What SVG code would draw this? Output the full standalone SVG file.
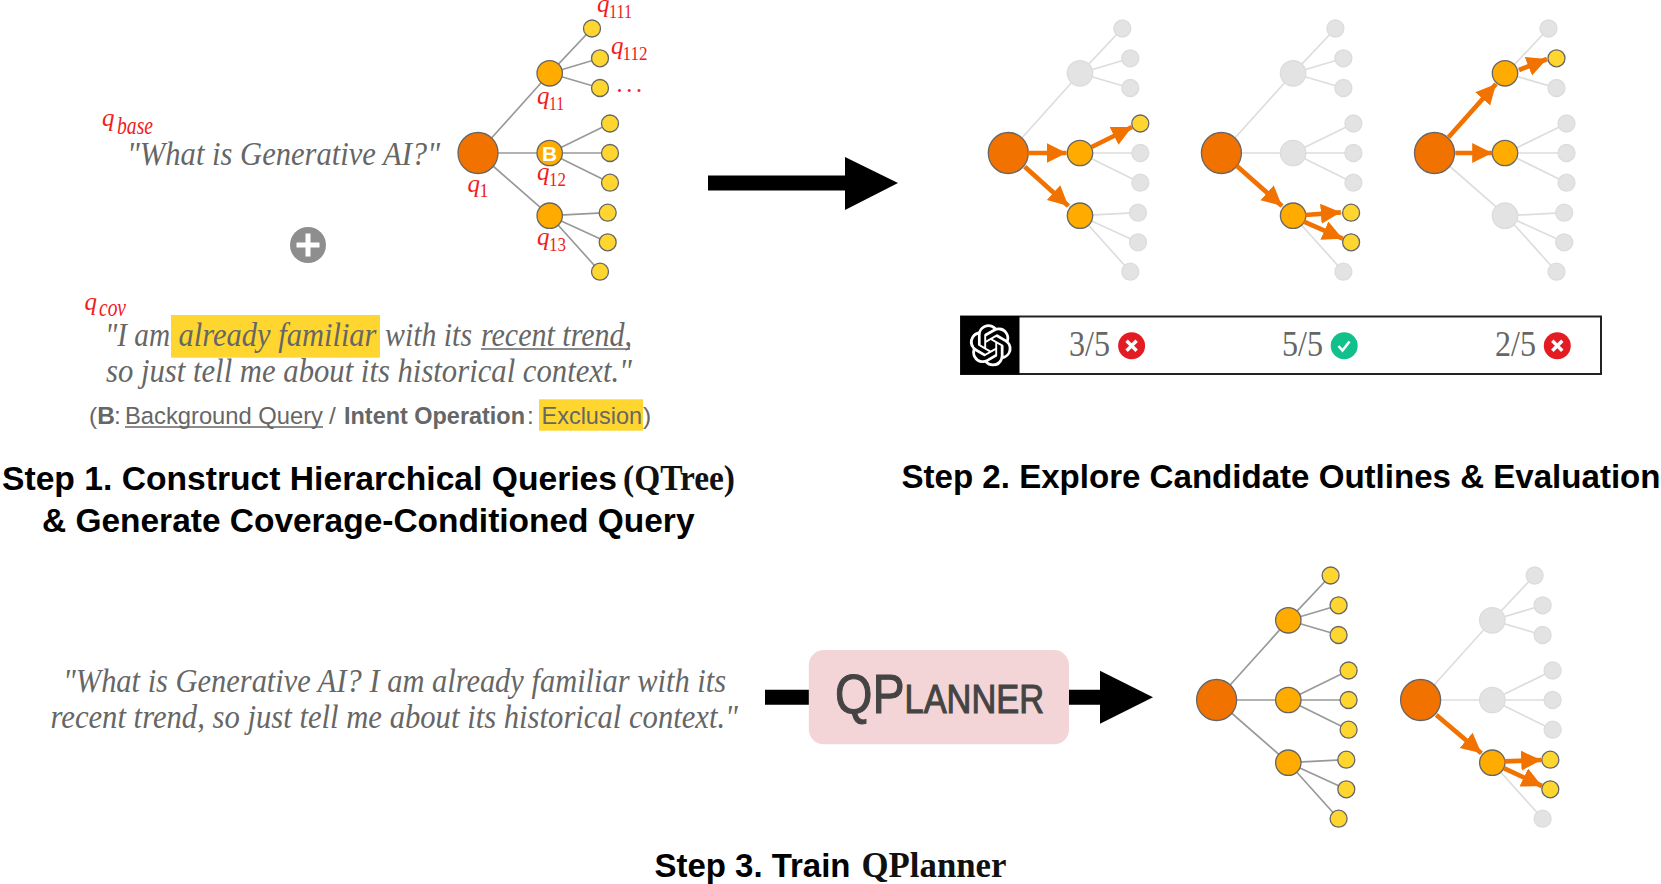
<svg xmlns="http://www.w3.org/2000/svg" xmlns:xlink="http://www.w3.org/1999/xlink" width="1661" height="884" viewBox="0 0 1661 884">
<style>
text{font-family:"Liberation Sans",Arial,sans-serif}
.qt{font-family:"Liberation Serif","Times New Roman",serif;font-style:italic;font-size:34px;fill:#666}
.q{font-family:"Liberation Serif","Times New Roman",serif;font-style:italic;fill:#f0201c;font-size:25px}
.s{font-family:"Liberation Serif","Times New Roman",serif;fill:#f0201c;font-size:18px}
.si{font-family:"Liberation Serif","Times New Roman",serif;font-style:italic;fill:#f0201c;font-size:25px}
.h{font-weight:700;font-size:33.5px;fill:#000}
.hs{font-family:"Liberation Serif","Times New Roman",serif;font-weight:700;font-size:35px;fill:#111}
.leg{font-size:24.5px;fill:#666}
.sc{font-family:"Liberation Serif","Times New Roman",serif;font-size:35px;fill:#666}
.e{stroke:#999;stroke-width:1.7;fill:none}
.f{stroke:#ddd;stroke-width:1.7;fill:none}
.r{fill:#f27200;stroke:#666;stroke-width:1.3}
.m{fill:#ffab00;stroke:#666;stroke-width:1.3}
.l{fill:#ffd630;stroke:#666;stroke-width:1.3}
.x{fill:#e3e3e3;stroke:#dcdcdc;stroke-width:1.3}
.a{stroke:#f27200;stroke-width:4.7;fill:none;marker-end:url(#ah)}
.hl{fill:#ffd630}
.ul{stroke:#666;stroke-width:1.5}
</style>
<defs>
<marker id="ah" markerUnits="userSpaceOnUse" markerWidth="21" markerHeight="21" refX="20" refY="10" orient="auto"><path d="M0 0L20 10L0 20z" fill="#f27200"/></marker>
<path id="branches" d="M478 153L549.7 73.3M478 153H549.7M478 153L549.7 215.7M549.7 73.3L592 28.5M549.7 73.3L600 58.3M549.7 73.3L600 88M549.7 153L610 123.5M549.7 153H610M549.7 153L610 182.7M549.7 215.7L607.7 212.7M549.7 215.7L607.7 242.3M549.7 215.7L600 271.7"/>
</defs>
<rect width="1661" height="884" fill="#fff"/>
<g id="connectors">
<use xlink:href="#branches" href="#branches" class="e"/>
<use xlink:href="#branches" href="#branches" class="f" transform="translate(530.3 0)"/>
<use xlink:href="#branches" href="#branches" class="f" transform="translate(743.4 0)"/>
<use xlink:href="#branches" href="#branches" class="f" transform="translate(956.5 0)"/>
<use xlink:href="#branches" href="#branches" class="e" transform="translate(738.6 547)"/>
<use xlink:href="#branches" href="#branches" class="f" transform="translate(942.6 547)"/>
<path d="M708 183H845" stroke="#000" stroke-width="15" fill="none"/>
<path d="M845 157L898 183L845 210z" fill="#000"/>
<path d="M765 697.3H810M1068 697.3H1101" stroke="#000" stroke-width="15" fill="none"/>
<path d="M1100 670.7L1153 697.3L1100 723.7z" fill="#000"/>
</g>
<g id="tree1">
<g id="t1-q1"><ellipse class="r" cx="478" cy="153" rx="20" ry="20.5"/></g>
<g id="t1-q11"><circle class="m" cx="549.7" cy="73.3" r="12.7"/></g>
<g id="t1-q12"><circle class="m" cx="549.7" cy="153" r="12.7"/><text x="549.7" y="160.5" font-size="21" font-weight="700" fill="#fff" text-anchor="middle">B</text></g>
<g id="t1-q13"><circle class="m" cx="549.7" cy="215.7" r="12.7"/></g>
<g id="t1-q111"><circle class="l" cx="592" cy="28.5" r="8.5"/></g>
<g id="t1-q112"><circle class="l" cx="600" cy="58.3" r="8.5"/></g>
<g id="t1-q113"><circle class="l" cx="600" cy="88" r="8.5"/></g>
<g id="t1-q121"><circle class="l" cx="610" cy="123.5" r="8.5"/></g>
<g id="t1-q122"><circle class="l" cx="610" cy="153" r="8.5"/></g>
<g id="t1-q123"><circle class="l" cx="610" cy="182.7" r="8.5"/></g>
<g id="t1-q131"><circle class="l" cx="607.7" cy="212.7" r="8.5"/></g>
<g id="t1-q132"><circle class="l" cx="607.7" cy="242.3" r="8.5"/></g>
<g id="t1-q133"><circle class="l" cx="600" cy="271.7" r="8.5"/></g>
</g>
<g id="tree2" transform="translate(530.3 0)">
<g id="t2-q1"><ellipse class="r" cx="478" cy="153" rx="20" ry="20.5"/></g>
<g id="t2-q11"><circle class="x" cx="549.7" cy="73.3" r="12.7"/></g>
<g id="t2-q12"><circle class="m" cx="549.7" cy="153" r="12.7"/></g>
<g id="t2-q13"><circle class="m" cx="549.7" cy="215.7" r="12.7"/></g>
<g id="t2-q111"><circle class="x" cx="592" cy="28.5" r="8.5"/></g>
<g id="t2-q112"><circle class="x" cx="600" cy="58.3" r="8.5"/></g>
<g id="t2-q113"><circle class="x" cx="600" cy="88" r="8.5"/></g>
<g id="t2-q121"><circle class="l" cx="610" cy="123.5" r="8.5"/></g>
<g id="t2-q122"><circle class="x" cx="610" cy="153" r="8.5"/></g>
<g id="t2-q123"><circle class="x" cx="610" cy="182.7" r="8.5"/></g>
<g id="t2-q131"><circle class="x" cx="607.7" cy="212.7" r="8.5"/></g>
<g id="t2-q132"><circle class="x" cx="607.7" cy="242.3" r="8.5"/></g>
<g id="t2-q133"><circle class="x" cx="600" cy="271.7" r="8.5"/></g>
</g>
<g id="tree3" transform="translate(743.4 0)">
<g id="t3-q1"><ellipse class="r" cx="478" cy="153" rx="20" ry="20.5"/></g>
<g id="t3-q11"><circle class="x" cx="549.7" cy="73.3" r="12.7"/></g>
<g id="t3-q12"><circle class="x" cx="549.7" cy="153" r="12.7"/></g>
<g id="t3-q13"><circle class="m" cx="549.7" cy="215.7" r="12.7"/></g>
<g id="t3-q111"><circle class="x" cx="592" cy="28.5" r="8.5"/></g>
<g id="t3-q112"><circle class="x" cx="600" cy="58.3" r="8.5"/></g>
<g id="t3-q113"><circle class="x" cx="600" cy="88" r="8.5"/></g>
<g id="t3-q121"><circle class="x" cx="610" cy="123.5" r="8.5"/></g>
<g id="t3-q122"><circle class="x" cx="610" cy="153" r="8.5"/></g>
<g id="t3-q123"><circle class="x" cx="610" cy="182.7" r="8.5"/></g>
<g id="t3-q131"><circle class="l" cx="607.7" cy="212.7" r="8.5"/></g>
<g id="t3-q132"><circle class="l" cx="607.7" cy="242.3" r="8.5"/></g>
<g id="t3-q133"><circle class="x" cx="600" cy="271.7" r="8.5"/></g>
</g>
<g id="tree4" transform="translate(956.5 0)">
<g id="t4-q1"><ellipse class="r" cx="478" cy="153" rx="20" ry="20.5"/></g>
<g id="t4-q11"><circle class="m" cx="548.5" cy="73.3" r="12.7"/></g>
<g id="t4-q12"><circle class="m" cx="548.5" cy="153" r="12.7"/></g>
<g id="t4-q13"><circle class="x" cx="548.5" cy="215.7" r="12.7"/></g>
<g id="t4-q111"><circle class="x" cx="592" cy="28.5" r="8.5"/></g>
<g id="t4-q112"><circle class="l" cx="600" cy="58.3" r="8.5"/></g>
<g id="t4-q113"><circle class="x" cx="600" cy="88" r="8.5"/></g>
<g id="t4-q121"><circle class="x" cx="610" cy="123.5" r="8.5"/></g>
<g id="t4-q122"><circle class="x" cx="610" cy="153" r="8.5"/></g>
<g id="t4-q123"><circle class="x" cx="610" cy="182.7" r="8.5"/></g>
<g id="t4-q131"><circle class="x" cx="607.7" cy="212.7" r="8.5"/></g>
<g id="t4-q132"><circle class="x" cx="607.7" cy="242.3" r="8.5"/></g>
<g id="t4-q133"><circle class="x" cx="600" cy="271.7" r="8.5"/></g>
</g>
<g id="tree5" transform="translate(738.6 547)">
<g id="t5-q1"><ellipse class="r" cx="478" cy="153" rx="20" ry="20.5"/></g>
<g id="t5-q11"><circle class="m" cx="549.7" cy="73.3" r="12.7"/></g>
<g id="t5-q12"><circle class="m" cx="549.7" cy="153" r="12.7"/></g>
<g id="t5-q13"><circle class="m" cx="549.7" cy="215.7" r="12.7"/></g>
<g id="t5-q111"><circle class="l" cx="592" cy="28.5" r="8.5"/></g>
<g id="t5-q112"><circle class="l" cx="600" cy="58.3" r="8.5"/></g>
<g id="t5-q113"><circle class="l" cx="600" cy="88" r="8.5"/></g>
<g id="t5-q121"><circle class="l" cx="610" cy="123.5" r="8.5"/></g>
<g id="t5-q122"><circle class="l" cx="610" cy="153" r="8.5"/></g>
<g id="t5-q123"><circle class="l" cx="610" cy="182.7" r="8.5"/></g>
<g id="t5-q131"><circle class="l" cx="607.7" cy="212.7" r="8.5"/></g>
<g id="t5-q132"><circle class="l" cx="607.7" cy="242.3" r="8.5"/></g>
<g id="t5-q133"><circle class="l" cx="600" cy="271.7" r="8.5"/></g>
</g>
<g id="tree6" transform="translate(942.6 547)">
<g id="t6-q1"><ellipse class="r" cx="478" cy="153" rx="20" ry="20.5"/></g>
<g id="t6-q11"><circle class="x" cx="549.7" cy="73.3" r="12.7"/></g>
<g id="t6-q12"><circle class="x" cx="549.7" cy="153" r="12.7"/></g>
<g id="t6-q13"><circle class="m" cx="549.7" cy="215.7" r="12.7"/></g>
<g id="t6-q111"><circle class="x" cx="592" cy="28.5" r="8.5"/></g>
<g id="t6-q112"><circle class="x" cx="600" cy="58.3" r="8.5"/></g>
<g id="t6-q113"><circle class="x" cx="600" cy="88" r="8.5"/></g>
<g id="t6-q121"><circle class="x" cx="610" cy="123.5" r="8.5"/></g>
<g id="t6-q122"><circle class="x" cx="610" cy="153" r="8.5"/></g>
<g id="t6-q123"><circle class="x" cx="610" cy="182.7" r="8.5"/></g>
<g id="t6-q131"><circle class="l" cx="607.7" cy="212.7" r="8.5"/></g>
<g id="t6-q132"><circle class="l" cx="607.7" cy="242.3" r="8.5"/></g>
<g id="t6-q133"><circle class="x" cx="600" cy="271.7" r="8.5"/></g>
</g>
<g id="orange-arrows">
<line class="a" x1="1028" y1="153" x2="1066.5" y2="153"/>
<line class="a" x1="1091.7" y1="147" x2="1132" y2="127"/>
<line class="a" x1="1024.8" y1="166.7" x2="1068.4" y2="206"/>
<line class="a" x1="1236.9" y1="166" x2="1282" y2="206"/>
<line class="a" x1="1305.3" y1="215" x2="1340.8" y2="212.3"/>
<line class="a" x1="1303.9" y1="221.7" x2="1342.7" y2="238.7"/>
<line class="a" x1="1448.5" y1="137.3" x2="1496" y2="84"/>
<line class="a" x1="1519" y1="70" x2="1547" y2="59"/>
<line class="a" x1="1455.3" y1="153" x2="1492.2" y2="153"/>
<line class="a" x1="1436.3" y1="715" x2="1481.4" y2="753.3"/>
<line class="a" x1="1504.3" y1="761.3" x2="1541.2" y2="760"/>
<line class="a" x1="1504.3" y1="768.3" x2="1541.9" y2="786"/>
</g>
<g id="tree-labels">
<text class="q" x="597" y="12">q</text><text class="s" x="609" y="17.5" textLength="23" lengthAdjust="spacingAndGlyphs">111</text>
<text class="q" x="611" y="54">q</text><text class="s" x="622.5" y="59.5" textLength="25" lengthAdjust="spacingAndGlyphs">112</text>
<text class="q" x="617" y="92" font-size="22" letter-spacing="3.5">...</text>
<text class="q" x="537" y="104">q</text><text class="s" x="549" y="109.5" textLength="15" lengthAdjust="spacingAndGlyphs">11</text>
<text class="q" x="537" y="180">q</text><text class="s" x="549" y="186" textLength="17" lengthAdjust="spacingAndGlyphs">12</text>
<text class="q" x="537" y="245">q</text><text class="s" x="549" y="251" textLength="17" lengthAdjust="spacingAndGlyphs">13</text>
<text class="q" x="467.5" y="191.5">q</text><text class="s" x="479.5" y="197">1</text>
<text class="q" x="102" y="126" font-size="33">q</text><text class="si" x="117" y="134" textLength="36" lengthAdjust="spacingAndGlyphs">base</text>
<text class="q" x="84.5" y="310" font-size="33">q</text><text class="si" x="99" y="316" textLength="27" lengthAdjust="spacingAndGlyphs">cov</text>
</g>
<g id="query-text">
<text class="qt" x="127" y="164.5" textLength="313" lengthAdjust="spacingAndGlyphs">"What is Generative AI?"</text>
<g id="plus"><ellipse cx="308" cy="245" rx="18" ry="18" fill="#8e8e8e"/><path d="M296.5 245H319.5M308 233.5V256.5" stroke="#fff" stroke-width="5" fill="none"/></g>
<rect class="hl" x="171" y="315" width="209" height="42.7"/>
<text class="qt" x="105" y="346" textLength="65" lengthAdjust="spacingAndGlyphs">"I am</text>
<text class="qt" x="178.5" y="346" textLength="198" lengthAdjust="spacingAndGlyphs">already familiar</text>
<text class="qt" x="385" y="346" textLength="87" lengthAdjust="spacingAndGlyphs">with its</text>
<text class="qt" x="481" y="346" textLength="151" lengthAdjust="spacingAndGlyphs">recent trend,</text>
<line class="ul" x1="481" y1="349" x2="630" y2="349"/>
<text class="qt" x="106" y="382" textLength="526" lengthAdjust="spacingAndGlyphs">so just tell me about its historical context."</text>
<rect class="hl" x="539" y="399.3" width="104" height="31.4"/>
<text class="leg" x="89" y="424">(<tspan font-weight="700">B</tspan></text>
<text class="leg" x="114" y="424">:</text>
<text class="leg" x="125" y="424" textLength="198" lengthAdjust="spacingAndGlyphs">Background Query</text>
<line class="ul" x1="125" y1="427" x2="323" y2="427"/>
<text class="leg" x="329" y="424">/</text>
<text class="leg" x="344" y="424" font-weight="700" textLength="181" lengthAdjust="spacingAndGlyphs">Intent Operation</text>
<text class="leg" x="527" y="424">:</text>
<text class="leg" x="541.5" y="424" textLength="100.5" lengthAdjust="spacingAndGlyphs">Exclusion</text>
<text class="leg" x="643" y="424">)</text>
</g>
<g id="score-table">
<rect x="961" y="316.5" width="640" height="57.5" fill="#fff" stroke="#222" stroke-width="2"/>
<rect x="960.5" y="316" width="59" height="58.5" fill="#000"/>
<path fill="#fff" transform="translate(969.7 324.3) scale(1.75)" d="M22.2819 9.8211a5.9847 5.9847 0 0 0-.5157-4.9108 6.0462 6.0462 0 0 0-6.5098-2.9A6.0651 6.0651 0 0 0 4.9807 4.1818a5.9847 5.9847 0 0 0-3.9977 2.9 6.0462 6.0462 0 0 0 .7427 7.0966 5.98 5.98 0 0 0 .511 4.9107 6.051 6.051 0 0 0 6.5146 2.9001A5.9847 5.9847 0 0 0 13.2599 24a6.0557 6.0557 0 0 0 5.7718-4.2058 5.9894 5.9894 0 0 0 3.9977-2.9001 6.0557 6.0557 0 0 0-.7475-7.0729zm-9.022 12.6081a4.4755 4.4755 0 0 1-2.8764-1.0408l.1419-.0804 4.7783-2.7582a.7948.7948 0 0 0 .3927-.6813v-6.7369l2.02 1.1686a.071.071 0 0 1 .038.052v5.5826a4.504 4.504 0 0 1-4.4945 4.4944zm-9.6607-4.1254a4.4708 4.4708 0 0 1-.5346-3.0137l.142.0852 4.783 2.7582a.7712.7712 0 0 0 .7806 0l5.8428-3.3685v2.3324a.0804.0804 0 0 1-.0332.0615L9.74 19.9502a4.4992 4.4992 0 0 1-6.1408-1.6464zM2.3408 7.8956a4.485 4.485 0 0 1 2.3655-1.9728V11.6a.7664.7664 0 0 0 .3879.6765l5.8144 3.3543-2.0201 1.1685a.0757.0757 0 0 1-.071 0l-4.8303-2.7865A4.504 4.504 0 0 1 2.3408 7.872zm16.5963 3.8558L13.1038 8.364 15.1192 7.2a.0757.0757 0 0 1 .071 0l4.8303 2.7913a4.4944 4.4944 0 0 1-.6765 8.1042v-5.6772a.79.79 0 0 0-.407-.667zm2.0107-3.0231l-.142-.0852-4.7735-2.7818a.7759.7759 0 0 0-.7854 0L9.409 9.2297V6.8974a.0662.0662 0 0 1 .0284-.0615l4.8303-2.7866a4.4992 4.4992 0 0 1 6.6802 4.66zM8.3065 12.863l-2.02-1.1638a.0804.0804 0 0 1-.038-.0567V6.0742a4.4992 4.4992 0 0 1 7.3757-3.4537l-.142.0805L8.704 5.459a.7948.7948 0 0 0-.3927.6813zm1.0976-2.3654l2.602-1.4998 2.6069 1.4998v2.9994l-2.5974 1.4997-2.6067-1.4997Z"/>
<text class="sc" x="1069" y="356" textLength="41" lengthAdjust="spacingAndGlyphs">3/5</text>
<text class="sc" x="1282" y="356" textLength="41" lengthAdjust="spacingAndGlyphs">5/5</text>
<text class="sc" x="1495" y="356" textLength="41" lengthAdjust="spacingAndGlyphs">2/5</text>
<g id="score1"><circle cx="1131.6" cy="345.7" r="13.5" fill="#e31b23"/><path d="M1126.6 340.7l10 10m0-10l-10 10" stroke="#fff" stroke-width="3.4" fill="none"/></g>
<g id="score2"><circle cx="1344.2" cy="345.7" r="13.5" fill="#12c08c"/><path d="M1338.5 346l4 4.5l7-9" stroke="#fff" stroke-width="2.6" fill="none"/></g>
<g id="score3"><circle cx="1557.3" cy="345.7" r="13.5" fill="#e31b23"/><path d="M1552.3 340.7l10 10m0-10l-10 10" stroke="#fff" stroke-width="3.4" fill="none"/></g>
</g>
<g id="headings">
<text class="h" x="2" y="489.5" textLength="615" lengthAdjust="spacingAndGlyphs">Step 1. Construct Hierarchical Queries</text>
<text class="hs" x="623" y="489.5" textLength="112" lengthAdjust="spacingAndGlyphs">(QTree)</text>
<text class="h" x="42" y="531.5" textLength="652.5" lengthAdjust="spacingAndGlyphs">&amp; Generate Coverage-Conditioned Query</text>
<text class="h" x="901.5" y="487.5" textLength="759" lengthAdjust="spacingAndGlyphs">Step 2. Explore Candidate Outlines &amp; Evaluation</text>
<text class="h" x="654.5" y="877" textLength="196" lengthAdjust="spacingAndGlyphs">Step 3. Train</text>
<text class="hs" x="861.5" y="877" textLength="145" lengthAdjust="spacingAndGlyphs">QPlanner</text>
</g>
<g id="train-query">
<text class="qt" x="63" y="691.5" textLength="663" lengthAdjust="spacingAndGlyphs">"What is Generative AI? I am already familiar with its</text>
<text class="qt" x="50.5" y="727.5" textLength="687.5" lengthAdjust="spacingAndGlyphs">recent trend, so just tell me about its historical context."</text>
</g>
<g id="qplanner">
<rect x="808.8" y="650" width="260.2" height="94.3" rx="15" fill="#f4d5d7"/>
<text x="835" y="713" font-family="Liberation Serif, serif" fill="#444" stroke="#444" stroke-width="1.1" font-size="40" textLength="209" lengthAdjust="spacingAndGlyphs"><tspan font-size="56">QP</tspan>LANNER</text>
</g>
</svg>
